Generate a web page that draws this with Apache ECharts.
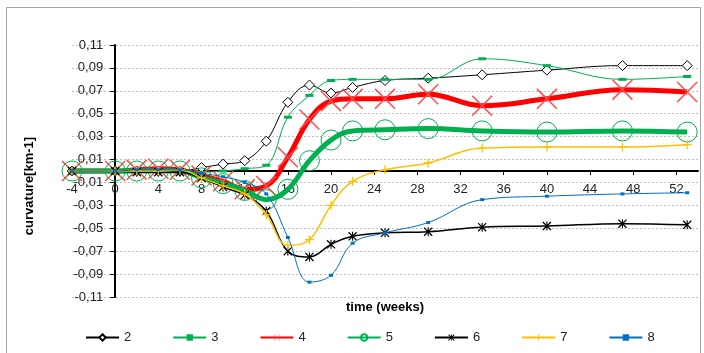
<!DOCTYPE html>
<html>
<head>
<meta charset="utf-8">
<script src="https://cdn.jsdelivr.net/npm/echarts@6/dist/echarts.min.js"></script>
<style>
html,body{margin:0;padding:0;background:#fff;}
#c{width:704px;height:353px;}
</style>
</head>
<body>
<div id="c"></div>
<script>
// ---- data ----
const weeks = [-4, 0, 2, 4, 6, 8, 10, 12, 14, 16, 18, 20, 22, 25, 29, 34, 40, 47, 53];
const s2 = [0, 0, 0, 0, 0, 0.003, 0.006, 0.009, 0.026, 0.060, 0.075, 0.068, 0.073, 0.079, 0.081, 0.084, 0.088, 0.092, 0.092];
const s3 = [0, 0, 0, 0, 0, -0.001, 0, 0.002, 0.005, 0.047, 0.066, 0.079, 0.080, 0.080, 0.080, 0.098, 0.092, 0.080, 0.0825];
const s4 = [0, 0, 0.001, 0.002, 0.001, -0.004, -0.009, -0.016, -0.013, 0.012, 0.045, 0.061, 0.063, 0.063, 0.067, 0.057, 0.063, 0.071, 0.069];
const s5 = [0, 0, 0, 0, 0, -0.006, -0.011, -0.017, -0.025, -0.016, 0.009, 0.027, 0.035, 0.036, 0.037, 0.035, 0.034, 0.035, 0.034];
const s6 = [0, 0, -0.001, -0.001, -0.001, -0.006, -0.014, -0.021, -0.035, -0.070, -0.075, -0.064, -0.057, -0.054, -0.053, -0.049, -0.048, -0.046, -0.047];
const s7 = [0, 0, 0, 0, 0.001, -0.006, -0.013, -0.020, -0.038, -0.065, -0.060, -0.030, -0.009, 0.001, 0.007, 0.020, 0.021, 0.021, 0.023];
const s8 = [0, 0, 0.001, 0.001, 0.001, -0.002, -0.005, -0.010, -0.020, -0.058, -0.097, -0.091, -0.063, -0.054, -0.045, -0.025, -0.022, -0.020, -0.019];
const seriesNames = ['2', '3', '4', '5', '6', '7', '8'];
const xTickValues = [-4, 0, 4, 8, 12, 16, 20, 24, 28, 32, 36, 40, 44, 48, 52];
const xAxisTitle = 'time (weeks)';
const yAxisTitle = 'curvature[km-1]';

// ---- layout / styles ----
const FONT = 'Liberation Sans, Arial, sans-serif';
const XMARK = 'path://M0,1L1,0L20,19L19,20ZM19,0L20,1L1,20L0,19Z';
const PLUS = 'path://M4.3,0H5.7V10H4.3ZM0,4.3H10V5.7H0Z';
const STAR = 'path://M0,1L1,0L10,9L9,10ZM9,0L10,1L1,10L0,9ZM4.4,0H5.6V10H4.4Z';

const G = { left: 72, right: 6, top: 45, bottom: 56 };
const W = 704, H = 353;
const X_MIN = -4, X_MAX = 54, Y_MIN = -0.11, Y_MAX = 0.11;
const gw = W - G.left - G.right, gh = H - G.top - G.bottom;
// place each axis at the zero of the other axis
const yAxisOffset = -((0 - X_MIN) / (X_MAX - X_MIN)) * gw;
const xAxisOffset = -((0 - Y_MIN) / (Y_MAX - Y_MIN)) * gh;

function pairs(arr) { return weeks.map((w, i) => [w, arr[i]]); }

const styles = [
  { data: s2, line: '#000000', width: 1, symbol: 'diamond', size: 10, item: { color: '#ffffff', borderColor: '#000000', borderWidth: 1 } },
  { data: s3, line: '#00b050', width: 1, symbol: 'rect', size: [8, 3], item: { color: '#00b050' } },
  { data: s4, line: '#ff0000', width: 5, symbol: XMARK, size: 21, item: { color: '#ff4b4b' } },
  { data: s5, line: '#00b050', width: 5, symbol: 'circle', size: 20, item: { color: 'rgba(0,0,0,0)', borderColor: '#00b050', borderWidth: 1 } },
  { data: s6, line: '#000000', width: 1.5, symbol: STAR, size: 9, item: { color: '#000000' } },
  { data: s7, line: '#ffc000', width: 1.5, symbol: PLUS, size: 9, item: { color: '#ffc000' } },
  { data: s8, line: '#0070c0', width: 1, symbol: 'rect', size: [4, 3], item: { color: '#0070c0' } }
];

const series = styles.map((s, i) => ({
  name: seriesNames[i],
  type: 'line',
  data: pairs(s.data),
  smooth: 0.4,
  symbol: s.symbol,
  symbolSize: s.size,
  showAllSymbol: true,
  lineStyle: { color: s.line, width: s.width },
  itemStyle: s.item,
  emphasis: { disabled: true },
  z: 2 + i
}));

const chart = echarts.init(document.getElementById('c'), null, { renderer: 'canvas' });
chart.setOption({
  animation: false,
  backgroundColor: '#ffffff',
  textStyle: { fontFamily: FONT },
  grid: { left: G.left, right: G.right, top: G.top, bottom: G.bottom, containLabel: false },
  xAxis: {
    type: 'value',
    min: X_MIN, max: X_MAX,
    position: 'bottom',
    offset: xAxisOffset,
    axisLine: { onZero: false, lineStyle: { color: '#000', width: 2 } },
    axisTick: { show: true, length: 4, customValues: xTickValues, lineStyle: { color: '#000', width: 1 } },
    axisLabel: { customValues: xTickValues, fontSize: 13, color: '#222', margin: 12, fontFamily: FONT },
    splitLine: { show: false }
  },
  yAxis: {
    type: 'value',
    min: Y_MIN, max: Y_MAX, interval: 0.02,
    position: 'left',
    offset: yAxisOffset,
    axisLine: { show: true, onZero: false, lineStyle: { color: '#000', width: 2 } },
    axisTick: { show: true, length: 5, lineStyle: { color: '#000', width: 1 } },
    axisLabel: {
      fontSize: 13, color: '#222', margin: 12, fontFamily: FONT,
      formatter: v => (Math.round(v * 100) / 100).toFixed(2).replace('.', ',')
    },
    splitLine: { show: true, lineStyle: { color: '#bfbfbf', width: 1, type: [2, 2] } }
  },
  legend: {
    data: seriesNames,
    left: 80, top: 326,
    itemWidth: 33, itemHeight: 8, itemGap: 41,
    textStyle: { fontSize: 13, color: '#222', fontFamily: FONT },
    selectedMode: false
  },
  graphic: [
    { type: 'rect', shape: { x: 6.5, y: 7.5, width: 694, height: 360 }, style: { fill: 'none', stroke: '#a6a6a6', lineWidth: 1 }, silent: true, z: -10 },
    { type: 'text', x: 385, y: 307, style: { text: xAxisTitle, font: 'bold 13px ' + FONT, fill: '#000', align: 'center', verticalAlign: 'middle' }, silent: true },
    { type: 'text', x: 29, y: 186, rotation: Math.PI / 2, style: { text: yAxisTitle, font: 'bold 13px ' + FONT, fill: '#000', align: 'center', verticalAlign: 'middle' }, silent: true }
  ],
  series: series
});
</script>
</body>
</html>
